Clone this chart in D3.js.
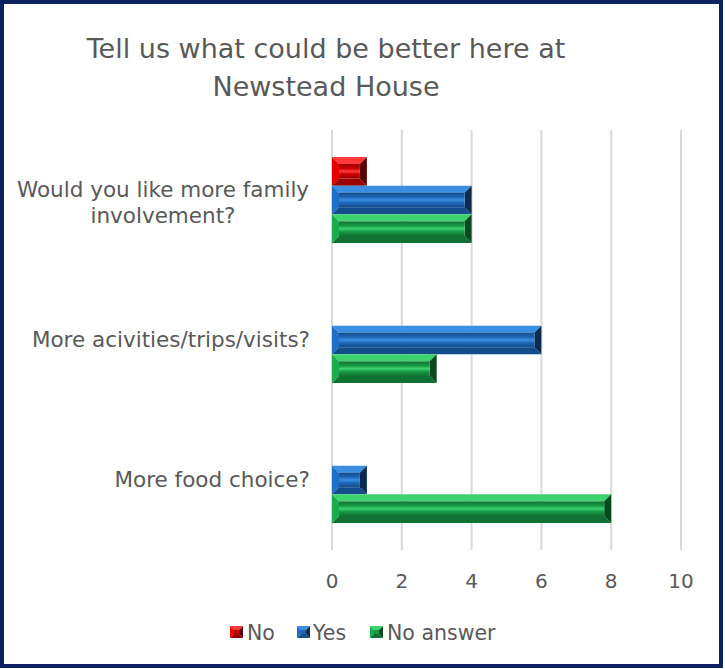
<!DOCTYPE html>
<html lang="en">
<head>
  <meta charset="utf-8">
  <title>Newstead House</title>
  <style>
    body { margin: 0; background: #fff; }
    svg text { font-family: "DejaVu Sans", sans-serif; fill: #595959; }
  </style>
</head>
<body>
<svg id="chart" width="725" height="669"></svg>
<script src="https://d3js.org/d3.v7.min.js"></script>
<script>
  // data
  var categories = ["Would you like more family involvement?", "More acivities/trips/visits?", "More food choice?"];
  var series = ["No", "Yes", "No answer"];
  var noVals = [1, 0, 0];
  var yesVals = [4, 6, 1];
  var noAnswerVals = [4, 3, 8];
  var xTicks = [0, 2, 4, 6, 8, 10];

  var values = { "No": noVals, "Yes": yesVals, "No answer": noAnswerVals };

  // base / light / dark / darkest shades for the bevel look
  var shades = {
    "No":        { base: "#e60000", light: "#ff3b3b", dark: "#9a0000", darkest: "#5a0000", mid: "#c80000" },
    "Yes":       { base: "#1f6fc4", light: "#3b8fe2", dark: "#134d8c", darkest: "#0a2c52", mid: "#1d66b5" },
    "No answer": { base: "#1aab4c", light: "#3ed26f", dark: "#0f7232", darkest: "#064a1d", mid: "#179a44" }
  };

  var svg = d3.select("#chart");

  // outer frame
  svg.append("rect")
    .attr("x", 2).attr("y", 2).attr("width", 719).attr("height", 664)
    .attr("fill", "#fff").attr("stroke", "#0c2261").attr("stroke-width", 4);

  var x = d3.scaleLinear().domain([0, 10]).range([332, 681]);
  var y = d3.scaleBand().domain(categories).range([130, 550]);
  var yInner = d3.scaleBand().domain(series).range([27, 113]);

  // gradients for inner faces
  var defs = svg.append("defs");
  series.forEach(function(s, i) {
    var c = shades[s];
    var g = defs.append("linearGradient").attr("id", "g" + i)
      .attr("x1", 0).attr("y1", 0).attr("x2", 0).attr("y2", 1);
    [[0, c.dark], [0.3, c.mid], [0.5, c.light], [0.7, c.mid], [1, c.dark]].forEach(function(st) {
      g.append("stop").attr("offset", st[0]).attr("stop-color", st[1]);
    });
  });

  // title
  var title = svg.append("text").attr("text-anchor", "middle").style("font-size", "27px");
  title.append("tspan").attr("x", 326).attr("y", 58).text("Tell us what could be better here at");
  title.append("tspan").attr("x", 326).attr("y", 96).text("Newstead House");

  // gridlines
  svg.append("g").selectAll("line").data(xTicks).join("line")
    .attr("x1", d => x(d)).attr("x2", d => x(d))
    .attr("y1", 130).attr("y2", 550)
    .attr("stroke", "#d9d9d9").attr("stroke-width", 2);

  // x tick labels
  svg.append("g").selectAll("text").data(xTicks).join("text")
    .attr("x", d => x(d)).attr("y", 588)
    .attr("text-anchor", "middle").style("font-size", "20px")
    .text(d => d);

  // category labels (wrapped like the original)
  var labelLines = {
    "Would you like more family involvement?": ["Would you like more family", "involvement?"],
    "More acivities/trips/visits?": ["More acivities/trips/visits?"],
    "More food choice?": ["More food choice?"]
  };
  categories.forEach(function(c) {
    var lines = labelLines[c];
    var cy = y(c) + y.bandwidth() / 2;
    var t = svg.append("text").style("font-size", "21.5px");
    if (lines.length === 1) {
      t.attr("x", 310).attr("y", cy + 7).attr("text-anchor", "end").text(lines[0]);
    } else {
      t.attr("text-anchor", "middle");
      lines.forEach(function(l, i) {
        t.append("tspan").attr("x", 163).attr("y", cy - 3 + i * 26).text(l);
      });
    }
  });

  // bevelled box
  function bevel(g, x0, y0, w, h, b, c, gradId) {
    if (w <= 0) return;
    b = Math.min(b, w / 2, h / 2);
    var x1 = x0 + w, y1 = y0 + h;
    var pts = function(a) { return a.map(p => p.join(",")).join(" "); };
    g.append("polygon").attr("points", pts([[x0, y0], [x1, y0], [x1 - b, y0 + b], [x0 + b, y0 + b]])).attr("fill", c.light);
    g.append("polygon").attr("points", pts([[x0, y0], [x0 + b, y0 + b], [x0 + b, y1 - b], [x0, y1]])).attr("fill", c.base);
    g.append("polygon").attr("points", pts([[x0, y1], [x0 + b, y1 - b], [x1 - b, y1 - b], [x1, y1]])).attr("fill", c.dark);
    g.append("polygon").attr("points", pts([[x1, y0], [x1, y1], [x1 - b, y1 - b], [x1 - b, y0 + b]])).attr("fill", c.darkest);
    g.append("rect").attr("x", x0 + b).attr("y", y0 + b)
      .attr("width", Math.max(0, w - 2 * b)).attr("height", Math.max(0, h - 2 * b))
      .attr("fill", gradId ? "url(#" + gradId + ")" : c.mid);
  }

  // bars
  var bars = svg.append("g");
  categories.forEach(function(cat, ci) {
    series.forEach(function(s, si) {
      var v = values[s][ci];
      var by = y(cat) + yInner(s);
      bevel(bars, x(0), by, x(v) - x(0), yInner.bandwidth(), 7, shades[s], "g" + si);
    });
  });

  // legend
  var legendItems = [
    { s: "No", mx: 230, tx: 247 },
    { s: "Yes", mx: 297, tx: 313 },
    { s: "No answer", mx: 370, tx: 387 }
  ];
  var leg = svg.append("g");
  legendItems.forEach(function(d) {
    bevel(leg, d.mx, 626, 13, 12, 4, shades[d.s], null);
    leg.append("text").attr("x", d.tx).attr("y", 640).style("font-size", "20.5px").text(d.s);
  });
</script>
</body>
</html>
